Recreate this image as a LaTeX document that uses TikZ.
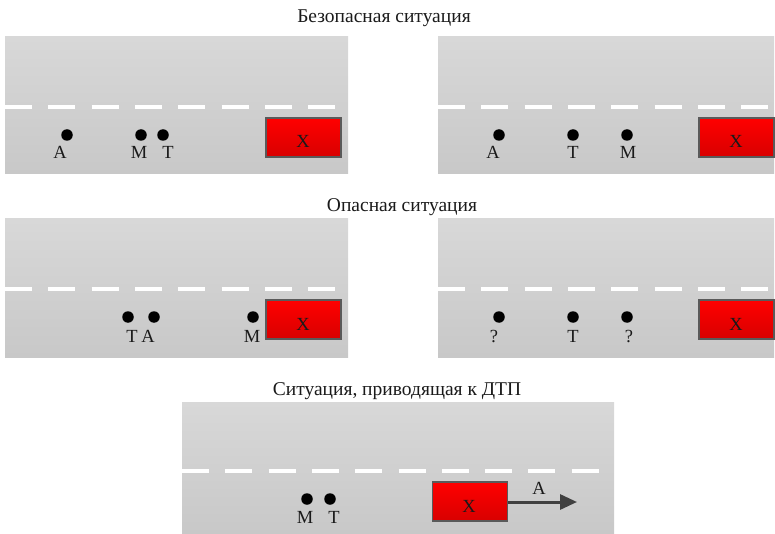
\documentclass[tikz,border=0pt]{standalone}
\usepackage{fontspec}
\setmainfont{Liberation Serif}
\usetikzlibrary{arrows.meta}
\definecolor{roadtop}{HTML}{D8D8D8}
\definecolor{roadbot}{HTML}{C8C8C8}
\definecolor{cartop}{HTML}{FF0000}
\definecolor{carbot}{HTML}{D80000}
\definecolor{carline}{HTML}{5A5A5A}
\definecolor{arrowgray}{HTML}{404040}
\definecolor{txt}{HTML}{1A1A1A}
\tikzset{
  road/.style={top color=roadtop, bottom color=roadbot, draw=none},
  lane/.style={draw=white, line width=4pt, dash pattern=on 27pt off 16.3pt},
  carbox/.style={draw=carline, line width=1.2pt, top color=cartop, bottom color=carbot,
    minimum width=75pt, minimum height=39pt, inner sep=0pt},
  dot/.style={circle, fill=black, minimum size=11.5pt, inner sep=0pt},
  lbl/.style={font=\fontsize{18.5}{22}\selectfont, text=txt, inner sep=0pt, anchor=base},
  ttl/.style={font=\fontsize{19.5}{23}\selectfont, text=txt, inner sep=0pt, anchor=base},
  movearrow/.style={draw=arrowgray, line width=3pt, -{Triangle[length=17pt,width=15pt]}}
}
\begin{document}
\begin{tikzpicture}[x=1pt,y=-1pt]
\useasboundingbox (0,0) rectangle (775,534);
% titles
\node[ttl] (t1) at (384,23) {Безопасная ситуация};
\node[ttl] (t2) at (402,212) {Опасная ситуация};
\node[ttl] (t3) at (397,395) {Ситуация, приводящая к ДТП};

% panel 1
\path[road] (5,37) rectangle (348,174);
\draw[lane] (5,107) -- (340,107);
\node[carbox] (x1) at (303.5,137.5) {};
\node[lbl] (xl1) at (303,148) {Х};
\node[dot] (a1) at (67,135) {};
\node[dot] (m1) at (141,135) {};
\node[dot] (tt1) at (163,135) {};
\node[lbl] (la1) at (60,159) {А};
\node[lbl] (lm1) at (139,159) {М};
\node[lbl] (lt1) at (168,159) {Т};

% panel 2
\path[road] (438,37) rectangle (774,174);
\draw[lane] (438,107) -- (772,107);
\node[carbox] (x2) at (736.5,137.5) {};
\node[lbl] (xl2) at (736,148) {Х};
\node[dot] (a2) at (499,135) {};
\node[dot] (tt2) at (573,135) {};
\node[dot] (m2) at (627,135) {};
\node[lbl] (la2) at (493,159) {А};
\node[lbl] (lt2) at (573,159) {Т};
\node[lbl] (lm2) at (628,159) {М};

% panel 3
\path[road] (5,219) rectangle (348,357);
\draw[lane] (5,289) -- (340,289);
\node[carbox] (x3) at (303.5,319.5) {};
\node[lbl] (xl3) at (303,330) {Х};
\node[dot] (tt3) at (128,317) {};
\node[dot] (a3) at (154,317) {};
\node[dot] (m3) at (253,317) {};
\node[lbl] (lt3) at (132,342) {Т};
\node[lbl] (la3) at (148,342) {А};
\node[lbl] (lm3) at (252,342) {М};

% panel 4
\path[road] (438,219) rectangle (774,357);
\draw[lane] (438,289) -- (772,289);
\node[carbox] (x4) at (736.5,319.5) {};
\node[lbl] (xl4) at (736,330) {Х};
\node[dot] (q4a) at (499,317) {};
\node[dot] (tt4) at (573,317) {};
\node[dot] (q4b) at (627,317) {};
\node[lbl] (lq4a) at (494,342) {?};
\node[lbl] (lt4) at (573,342) {Т};
\node[lbl] (lq4b) at (629,342) {?};

% panel 5
\path[road] (182,402) rectangle (614,534);
\draw[lane] (182,471) -- (604,471);
\node[carbox] (x5) at (470,501.5) {};
\node[lbl] (xl5) at (469,512) {Х};
\node[dot] (m5) at (307,499) {};
\node[dot] (tt5) at (330,499) {};
\node[lbl] (lm5) at (305,523) {М};
\node[lbl] (lt5) at (334,523) {Т};
\coordinate (tip) at (577,502);
\draw[movearrow] (x5.east |- tip) -- (tip);
\node[lbl] (la5) at (539,494) {А};
\end{tikzpicture}
\end{document}
